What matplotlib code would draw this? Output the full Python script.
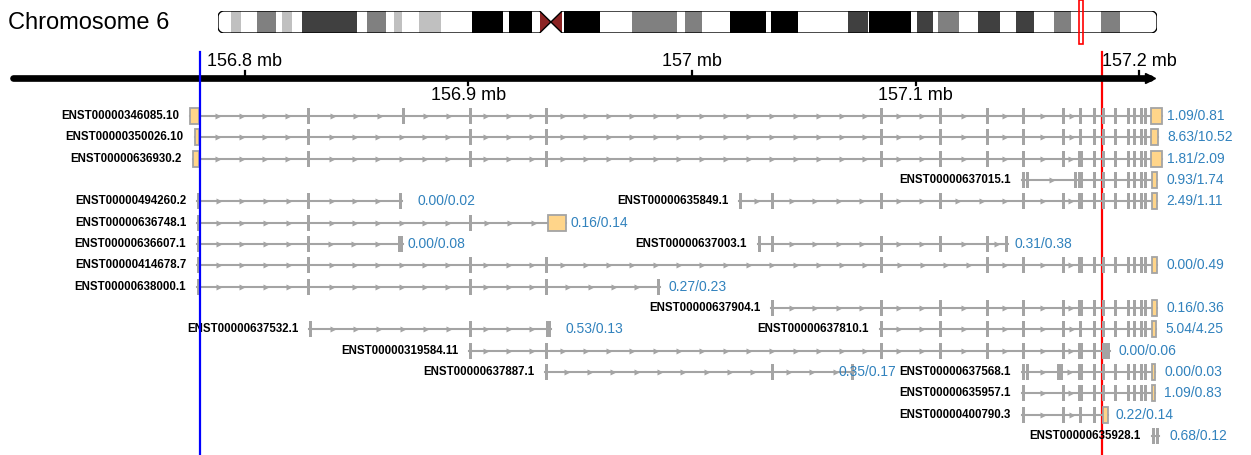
import numpy as np
import matplotlib.pyplot as plt
from matplotlib.patches import Rectangle, PathPatch
from matplotlib.path import Path

plt.rcParams['font.family'] = ['Liberation Sans', 'DejaVu Sans']

# chromosome 6 cytobands (Mb)
band_start = [0.0, 2.3, 4.2, 7.1, 10.6, 11.6, 13.4, 15.2, 25.2, 27.1, 30.5, 32.1, 33.5, 36.6,
              40.5, 46.2, 51.8, 53.0, 57.2, 58.5, 59.8, 62.6, 62.9, 69.4, 75.3, 83.5, 84.9,
              88.0, 93.1, 99.6, 100.6, 105.5, 114.6, 118.3, 118.5, 126.1, 127.1, 130.0,
              130.9, 134.7, 138.3, 142.2, 145.1, 148.5, 152.1, 155.2, 160.6, 164.1]
band_end = band_start[1:] + [170.8]
band_stain = ['gneg', 'gpos25', 'gneg', 'gpos50', 'gneg', 'gpos25', 'gneg', 'gpos75', 'gneg',
              'gpos50', 'gneg', 'gpos25', 'gneg', 'gpos25', 'gneg', 'gpos100', 'gneg',
              'gpos100', 'gneg', 'acen', 'acen', 'gneg', 'gpos100', 'gneg', 'gpos50', 'gneg',
              'gpos50', 'gneg', 'gpos100', 'gneg', 'gpos100', 'gneg', 'gpos75', 'gneg',
              'gpos100', 'gneg', 'gpos75', 'gneg', 'gpos50', 'gneg', 'gpos75', 'gneg',
              'gpos75', 'gneg', 'gpos50', 'gneg', 'gpos50', 'gneg']
stain_colors = {'gneg': 'white', 'gpos25': '#c0c0c0', 'gpos50': '#808080',
                'gpos75': '#404040', 'gpos100': 'black', 'acen': '#8b2323'}
CHROM_LEN = 170.8

# plotted window on chr6 (Mb)
VIEW_START, VIEW_END = 156.6904, 157.2501
AXIS_START, AXIS_END = 156.6962, 157.2049
axis_ticks = [156.8, 156.9, 157.0, 157.1, 157.2]
axis_labels = ['156.8 mb', '156.9 mb', '157 mb', '157.1 mb', '157.2 mb']
highlight_blue = 156.7799
highlight_red = 157.1835

# transcripts: exon centres (Mb), wider exons, UTR blocks (Mb), expression values
tx_names = ['ENST00000346085.10', 'ENST00000350026.10', 'ENST00000636930.2',
            'ENST00000637015.1', 'ENST00000494260.2', 'ENST00000635849.1',
            'ENST00000636748.1', 'ENST00000636607.1', 'ENST00000637003.1',
            'ENST00000414678.7', 'ENST00000638000.1', 'ENST00000637904.1',
            'ENST00000637532.1', 'ENST00000637810.1', 'ENST00000319584.11',
            'ENST00000637887.1', 'ENST00000637568.1', 'ENST00000635957.1',
            'ENST00000400790.3', 'ENST00000635928.1']
tx_rows = [0, 1, 2, 3, 4, 4, 5, 6, 6, 7, 8, 9, 10, 10, 11, 12, 12, 13, 14, 15]
tx_exons = [
    [156.8286, 156.8711, 156.9011, 156.9351, 157.0846, 157.1110, 157.1324, 157.1481,
     157.1664, 157.1736, 157.1803, 157.1839, 157.1893, 157.1955, 157.1982, 157.2009, 157.2031],
    [156.8286, 156.9011, 156.9351, 157.0846, 157.1110, 157.1324, 157.1481, 157.1664,
     157.1736, 157.1803, 157.1839, 157.1893, 157.1955, 157.1982, 157.2009, 157.2031],
    [156.8286, 156.9011, 156.9351, 157.0846, 157.1110, 157.1324, 157.1481, 157.1664,
     157.1803, 157.1839, 157.1893, 157.1955, 157.1982, 157.2009, 157.2031],
    [157.1481, 157.1503, 157.1714, 157.1803, 157.1839, 157.1893, 157.1955, 157.1982,
     157.2009, 157.2031],
    [156.7794, 156.8286, 156.8698],
    [157.0219, 157.0362, 157.0846, 157.1110, 157.1481, 157.1664, 157.1803, 157.1839,
     157.1893, 157.1955, 157.1982, 157.2009, 157.2031],
    [156.7794, 156.8286, 156.9011],
    [156.7794, 156.8286],
    [157.0300, 157.0362, 157.0846, 157.1110, 157.1324, 157.1405],
    [156.7794, 156.8286, 156.9011, 156.9351, 157.0846, 157.1324, 157.1481, 157.1664,
     157.1803, 157.1839, 157.1893, 157.1955, 157.1982, 157.2009, 157.2031],
    [156.7794, 156.8286, 156.9011, 156.9351, 156.9848],
    [157.0362, 157.0846, 157.1110, 157.1324, 157.1481, 157.1664, 157.1803, 157.1839,
     157.1893, 157.1955, 157.1982, 157.2009, 157.2031],
    [156.8295, 156.9011],
    [157.0846, 157.1110, 157.1324, 157.1481, 157.1664, 157.1736, 157.1803, 157.1839,
     157.1893, 157.1955, 157.1982, 157.2009, 157.2031],
    [156.9011, 156.9351, 157.0846, 157.1110, 157.1324, 157.1481, 157.1664, 157.1803,
     157.1839],
    [156.9351, 157.0362, 157.0716],
    [157.1481, 157.1503, 157.1638, 157.1655, 157.1803, 157.1839, 157.1893, 157.1955,
     157.1982, 157.2009, 157.2031],
    [157.1481, 157.1664, 157.1803, 157.1839, 157.1893, 157.1955, 157.1982, 157.2009,
     157.2031],
    [157.1481, 157.1664, 157.1736, 157.1803],
    [157.2063, 157.2081],
]
tx_wide = [[], [], [157.1736], [157.1736], [], [157.1736], [], [156.8698], [],
           [157.1736], [], [157.1736], [156.9356], [], [157.1736, 157.1857], [],
           [157.1736], [157.1736], [], []]
tx_utr = [
    [(156.7754, 156.7794), (157.2054, 157.2103)],
    [(156.7776, 156.7794), (157.2054, 157.2085)],
    [(156.7767, 156.7794), (157.2054, 157.2103)],
    [(157.2058, 157.2081)],
    [],
    [(157.2058, 157.2081)],
    [(156.9356, 156.9436)],
    [],
    [],
    [(157.2058, 157.2081)],
    [],
    [(157.2058, 157.2081)],
    [],
    [(157.2058, 157.2076)],
    [],
    [],
    [(157.2058, 157.2072)],
    [(157.2058, 157.2072)],
    [(157.1839, 157.1861)],
    [],
]
tx_values = ['1.09/0.81', '8.63/10.52', '1.81/2.09', '0.93/1.74', '0.00/0.02', '2.49/1.11',
             '0.16/0.14', '0.00/0.08', '0.31/0.38', '0.00/0.49', '0.27/0.23', '0.16/0.36',
             '0.53/0.13', '5.04/4.25', '0.00/0.06', '0.35/0.17', '0.00/0.03', '1.09/0.83',
             '0.22/0.14', '0.68/0.12']
# horizontal gap (px) between transcript end and its value label
value_dx = [5, 9, 5, 9, 15, 9, 5, 4, 7, 9, 9, 9, 15, 9, 9, -15, 9, 9, 8, 11]

W, H = 1251, 455
EXON_COLOR = '#a4a4a4'
UTR_COLOR = '#ffd58a'
VALUE_COLOR = '#3182bd'
ROW_Y0, ROW_STEP = 116, 21.33
EXON_H = 16
ARROW_STEP = 23.3

fig = plt.figure(figsize=(W / 100, H / 100), dpi=100)
ax = fig.add_axes([0, 0, 1, 1])
ax.set_xlim(VIEW_START, VIEW_END)
ax.set_ylim(H, 0)
ax.axis('off')
px = (VIEW_END - VIEW_START) / W  # Mb per pixel

fig.text(8 / W, 1 - 23 / H, 'Chromosome 6', fontsize=17, va='center', ha='left')

# ideogram
ideo = fig.add_axes([218 / W, 1 - 33 / H, 939 / W, 22 / H])
ideo.set_xlim(0, CHROM_LEN)
ideo.set_ylim(0, 1)
ideo.axis('off')
rx = 6 * CHROM_LEN / 939
ry = 6 / 22
acen_s = min(s for s, t in zip(band_start, band_stain) if t == 'acen')
acen_e = max(e for e, t in zip(band_end, band_stain) if t == 'acen')
acen_m = (acen_s + acen_e) / 2


def arc(cx, cy, a0, a1):
    a = np.linspace(np.radians(a0), np.radians(a1), 12)
    return list(zip(cx + rx * np.cos(a), cy + ry * np.sin(a)))


pts = []
pts += arc(rx, 1 - ry, 180, 90)
pts += [(acen_s, 1), (acen_m, 0.5), (acen_e, 1)]
pts += arc(CHROM_LEN - rx, 1 - ry, 90, 0)
pts += arc(CHROM_LEN - rx, ry, 0, -90)
pts += [(acen_e, 0), (acen_m, 0.5), (acen_s, 0)]
pts += arc(rx, ry, -90, -180)
pts.append(pts[0])
outline = Path(pts)
clip = PathPatch(outline, transform=ideo.transData, facecolor='none', edgecolor='none')
ideo.add_patch(clip)
for s, e, st in zip(band_start, band_end, band_stain):
    r = Rectangle((s, 0), e - s, 1, facecolor=stain_colors[st], edgecolor='none')
    ideo.add_patch(r)
    r.set_clip_path(clip)
ideo.add_patch(PathPatch(outline, facecolor='none', edgecolor='black', lw=1.0))
box_w = max(VIEW_END - VIEW_START, 4 * CHROM_LEN / 939)
box_c = (VIEW_START + VIEW_END) / 2
ideo.add_patch(Rectangle((box_c - box_w / 2, -0.5), box_w, 2.0, facecolor='none',
                         edgecolor='red', lw=1.2, clip_on=False))

# genome axis
AXIS_Y = 78
ax.plot([AXIS_START, AXIS_END], [AXIS_Y, AXIS_Y], color='black', lw=4.8,
        solid_capstyle='round', zorder=3)
ax.plot([AXIS_END], [AXIS_Y], marker='>', ms=7, color='black', zorder=3)
for i, (t, lab) in enumerate(zip(axis_ticks, axis_labels)):
    if i % 2 == 0:
        ax.plot([t, t], [AXIS_Y, AXIS_Y - 7], color='black', lw=1.6, zorder=3)
        ax.text(t, 62, lab, fontsize=13, ha='center', va='center')
    else:
        ax.plot([t, t], [AXIS_Y, AXIS_Y + 7], color='black', lw=1.6, zorder=3)
        ax.text(t, 95, lab, fontsize=13, ha='center', va='center')

# highlight lines
ax.plot([highlight_red, highlight_red], [52, H], color='red', lw=1.6, zorder=1)

# transcripts
for name, row, exons, wide, utr, val, dx in zip(tx_names, tx_rows, tx_exons, tx_wide,
                                                tx_utr, tx_values, value_dx):
    y = ROW_Y0 + row * ROW_STEP
    blocks = [(c - 1.5 * px, c + 1.5 * px) for c in exons]
    blocks += [(c - 2.5 * px, c + 2.5 * px) for c in wide]
    blocks += list(utr)
    blocks.sort()
    start = blocks[0][0]
    end = max(b[1] for b in blocks)
    ax.plot([start, end], [y, y], color=EXON_COLOR, lw=1.5, zorder=2)

    # strand arrows inside introns
    arrows = []
    for (s0, e0), (s1, e1) in zip(blocks[:-1], blocks[1:]):
        gap = (s1 - e0) / px
        n = int(gap // ARROW_STEP)
        if n == 0 and gap >= 12:
            n = 1
        if n == 0:
            continue
        first = e0 + (gap - (n - 1) * ARROW_STEP) / 2 * px
        arrows += [first + k * ARROW_STEP * px for k in range(n)]
    if arrows:
        ax.plot(arrows, [y] * len(arrows), ls='none', marker='>', ms=4.5,
                color=EXON_COLOR, mec='none', zorder=2)

    for c in exons:
        ax.add_patch(Rectangle((c - 1.5 * px, y - EXON_H / 2), 3 * px, EXON_H,
                               facecolor=EXON_COLOR, edgecolor='none', zorder=2))
    for c in wide:
        ax.add_patch(Rectangle((c - 2.5 * px, y - EXON_H / 2), 5 * px, EXON_H,
                               facecolor=EXON_COLOR, edgecolor='none', zorder=2))
    for s, e in utr:
        ax.add_patch(Rectangle((s, y - EXON_H / 2), e - s, EXON_H, facecolor=UTR_COLOR,
                               edgecolor=EXON_COLOR, lw=1.3, zorder=2))

    ax.annotate(name, (start, y), xytext=(-8, 0), textcoords='offset points',
                ha='right', va='center', fontsize=8.3, fontweight='bold', zorder=4)
    ax.annotate(val, (end, y), xytext=(dx * 0.72, 0), textcoords='offset points',
                ha='left', va='center', fontsize=10, color=VALUE_COLOR, zorder=4)

ax.plot([highlight_blue, highlight_blue], [52, H], color='blue', lw=1.6, zorder=5)

fig.savefig('out.png', dpi=100)
